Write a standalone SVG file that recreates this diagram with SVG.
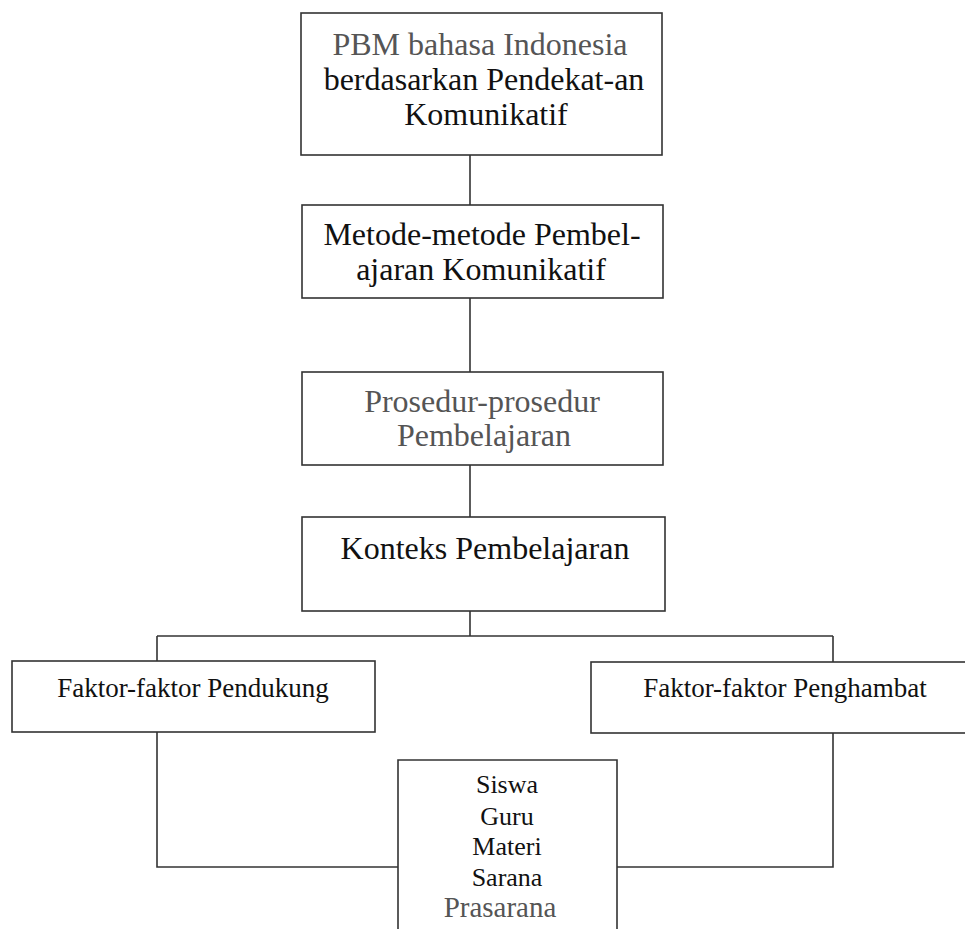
<svg xmlns="http://www.w3.org/2000/svg" width="965" height="929" viewBox="0 0 965 929">
<style>
.box{fill:#ffffff;stroke:#333333;stroke-width:1.6}
.ln{fill:none;stroke:#333333;stroke-width:1.6}
.t{font-family:"Liberation Serif","Times New Roman",serif;text-anchor:middle;fill:#111111}
.g{fill:#555555}
.big{font-size:32px}
.mid{font-size:27px}
.sm{font-size:26px}
</style>
<rect width="965" height="929" fill="#ffffff"/>
<g id="connectors">
<path class="ln" d="M470 155V205"/>
<path class="ln" d="M470 298V372"/>
<path class="ln" d="M470 465V517"/>
<path class="ln" d="M470 611V636"/>
<path class="ln" d="M157 636H833"/>
<path class="ln" d="M157 636V661"/>
<path class="ln" d="M833 636V662"/>
<path class="ln" d="M157 732V867H403"/>
<path class="ln" d="M833 733V867H617"/>
</g>
<g id="node-pbm">
<rect class="box" x="301" y="13" width="361" height="142"/>
<text class="t big g" x="480" y="55" font-size="33">PBM bahasa Indonesia</text>
<text class="t big" x="484" y="90">berdasarkan Pendekat-an</text>
<text class="t big" x="486" y="125">Komunikatif</text>
</g>
<g id="node-metode">
<rect class="box" x="302" y="205" width="361" height="93"/>
<text class="t big" x="482" y="245">Metode-metode Pembel-</text>
<text class="t big" x="481" y="280">ajaran Komunikatif</text>
</g>
<g id="node-prosedur">
<rect class="box" x="302" y="372" width="361" height="93"/>
<text class="t big g" x="482" y="412">Prosedur-prosedur</text>
<text class="t big g" x="484" y="446">Pembelajaran</text>
</g>
<g id="node-konteks">
<rect class="box" x="302" y="517" width="363" height="94"/>
<text class="t big" x="485" y="559">Konteks Pembelajaran</text>
</g>
<g id="node-pendukung">
<rect class="box" x="12" y="661" width="363" height="71"/>
<text class="t mid" x="193" y="697">Faktor-faktor Pendukung</text>
</g>
<g id="node-penghambat">
<rect class="box" x="591" y="662" width="400" height="71"/>
<text class="t mid" x="785" y="697">Faktor-faktor Penghambat</text>
</g>
<g id="node-komponen">
<path class="box" d="M398 940V760H617V940"/>
<text class="t sm" x="507" y="793">Siswa</text>
<text class="t sm" x="507" y="825">Guru</text>
<text class="t sm" x="507" y="855">Materi</text>
<text class="t sm" x="507" y="886">Sarana</text>
<text class="t g" x="500" y="917" font-size="29">Prasarana</text>
</g>
</svg>
